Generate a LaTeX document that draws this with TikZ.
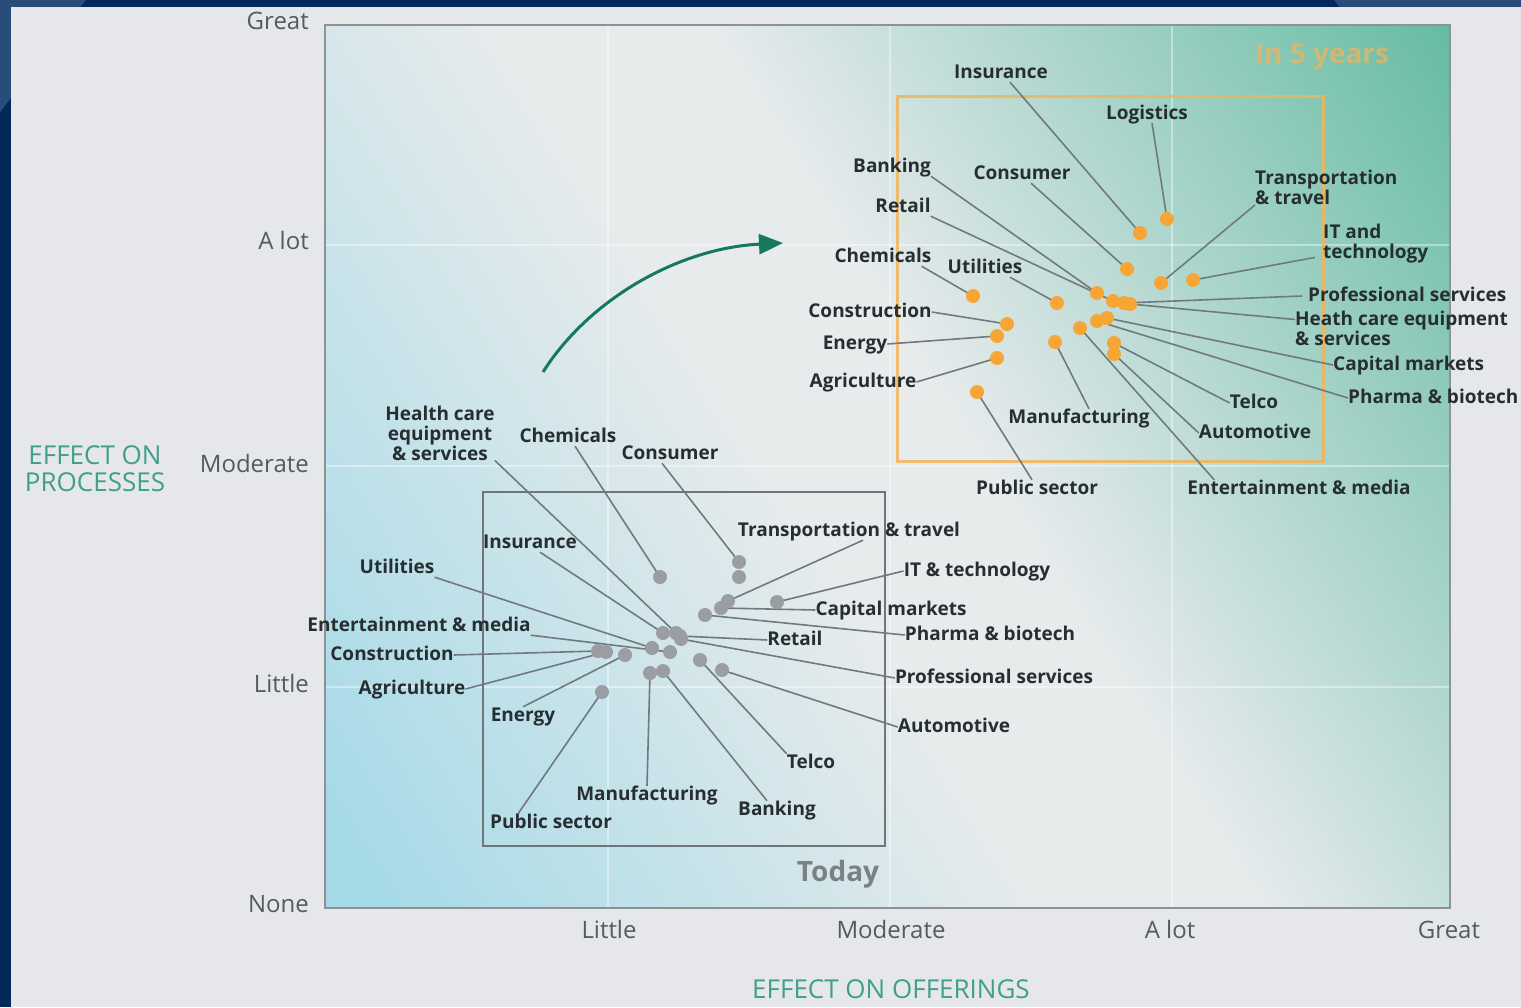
\documentclass[tikz,border=0pt]{standalone}
\usepackage{fontspec}
\setmainfont{Open Sans}
\usetikzlibrary{arrows.meta}
\definecolor{navy}{RGB}{3,40,90}
\definecolor{navylt}{RGB}{42,76,122}
\definecolor{slide}{RGB}{230,231,235}
\definecolor{axgrey}{RGB}{140,146,150}
\definecolor{ticktxt}{RGB}{85,90,94}
\definecolor{tealtxt}{RGB}{63,159,138}
\definecolor{arrowgreen}{RGB}{22,120,95}
\definecolor{orangebox}{RGB}{242,180,90}
\definecolor{orangedot}{RGB}{247,165,53}
\definecolor{greydot}{RGB}{154,157,161}
\definecolor{labtxt}{RGB}{38,46,50}
\definecolor{connc}{RGB}{112,122,126}
\definecolor{todaybox}{RGB}{110,118,122}
\definecolor{todaytxt}{RGB}{122,128,132}
\definecolor{gradA}{RGB}{166,218,231}
\definecolor{gradB}{RGB}{231,235,236}
\definecolor{gradC}{RGB}{104,188,165}
\pgfdeclareverticalshading{plotgrad}{100bp}{color(0bp)=(gradA); color(18bp)=(gradA); color(45bp)=(gradB); color(54bp)=(gradB); color(84bp)=(gradC); color(100bp)=(gradC)}
\pgfdeclarelayer{bgl}
\pgfdeclarelayer{connl}
\pgfsetlayers{bgl,connl,main}
\tikzset{
  lab/.style={font=\fontsize{19}{20}\selectfont\bfseries, text=labtxt, inner sep=0pt},
  labs/.style={lab, text height=14pt, text depth=4pt},
  tick/.style={font=\fontsize{24}{26}\selectfont, text=ticktxt, inner sep=0pt, text height=18pt, text depth=5pt},
  axtitle/.style={font=\fontsize{26}{27}\selectfont, text=tealtxt, inner sep=0pt},
  odot/.style={circle, fill=orangedot, minimum size=14pt, inner sep=0pt},
  gdot/.style={circle, fill=greydot, minimum size=14pt, inner sep=0pt},
  connline/.style={draw=connc, line width=1.6pt},
  gridline/.style={draw=white, opacity=0.4, line width=2pt}
}
\begin{document}
\begin{tikzpicture}[x=1pt,y=-1pt]
\useasboundingbox (0,0) rectangle (1521,1007);
\begin{pgfonlayer}{bgl}
  \fill[navy] (0,0) rectangle (1521,1007);
  \fill[navylt] (0,0) -- (86,0) -- (0,112) -- cycle;
  \fill[navylt] (1334,0) -- (1521,0) -- (1521,20) -- (1350,20) -- cycle;
  \fill[slide] (11,7) rectangle (1521,1007);
  \shade[shading=plotgrad, shading angle=-58] (325,25) rectangle (1450,908);
  \draw[gridline] (608,25) -- (608,908);
  \draw[gridline] (890,25) -- (890,908);
  \draw[gridline] (1172,25) -- (1172,908);
  \draw[gridline] (325,245) -- (1450,245);
  \draw[gridline] (325,466) -- (1450,466);
  \draw[gridline] (325,687) -- (1450,687);
  \draw[axgrey, line width=2pt] (325,25) rectangle (1450,908);
  \draw[orangebox, opacity=0.85, line width=3pt] (897,96) rectangle (1323,461);
  \draw[todaybox, line width=2pt] (483,492) rectangle (885,846);
\end{pgfonlayer}

% axis tick labels
\node[tick, anchor=east] (yGreat) at (309,23) {Great};
\node[tick, anchor=east] (yAlot) at (309,243) {A lot};
\node[tick, anchor=east] (yMod) at (309,466) {Moderate};
\node[tick, anchor=east] (yLittle) at (309,686) {Little};
\node[tick, anchor=east] (yNone) at (309,906) {None};
\node[tick] (xLittle) at (609,932) {Little};
\node[tick] (xMod) at (891,932) {Moderate};
\node[tick] (xAlot) at (1170,932) {A lot};
\node[tick] (xGreat) at (1449,932) {Great};
\node[axtitle, align=center] (ytitle) at (95,469) {EFFECT ON\\PROCESSES};
\node[axtitle] (xtitle) at (891,989) {EFFECT ON OFFERINGS};

\node[font=\fontsize{28}{30}\selectfont\bfseries, text=orangebox, opacity=0.7, inner sep=0pt] (in5) at (1322,57) {In 5 years};
\node[font=\fontsize{28}{30}\selectfont\bfseries, text=todaytxt, inner sep=0pt] (today) at (838,874) {Today};

% arrow
\coordinate (arrS) at (543,372);
\coordinate (arrE) at (783,243);
\draw[arrowgreen, line width=3pt, -{Triangle[length=24pt,width=20pt]}] (arrS) .. controls (590,298) and (680,248) .. (arrE);

% upper (in 5 years) dots
\node[odot] (uIns) at (1140,233) {};
\node[odot] (uLog) at (1167,219) {};
\node[odot] (uCons) at (1127,269) {};
\node[odot] (uTrans) at (1161,283) {};
\node[odot] (uIT) at (1193,280) {};
\node[odot] (uBank) at (1097,293) {};
\node[odot] (uRet) at (1113,301) {};
\node[odot] (uProf) at (1124,303) {};
\node[odot] (uHeal) at (1130,304) {};
\node[odot] (uUtil) at (1057,303) {};
\node[odot] (uChem) at (973,296) {};
\node[odot] (uConstr) at (1007,324) {};
\node[odot] (uEner) at (997,336) {};
\node[odot] (uAgri) at (997,358) {};
\node[odot] (uPub) at (977,392) {};
\node[odot] (uManu) at (1055,342) {};
\node[odot] (uEnt) at (1080,328) {};
\node[odot] (uCap) at (1107,318) {};
\node[odot] (uPharma) at (1097,321) {};
\node[odot] (uTelco) at (1114,343) {};
\node[odot] (uAuto) at (1114,354) {};

% upper labels
\node[labs] (luIns) at (1001,73) {Insurance};
\node[labs] (luLog) at (1147,114) {Logistics};
\node[labs] (luBank) at (892,167) {Banking};
\node[labs] (luCons) at (1022,174) {Consumer};
\node[labs] (luRet) at (903,207) {Retail};
\node[labs] (luChem) at (883,257) {Chemicals};
\node[labs] (luUtil) at (985,268) {Utilities};
\node[labs] (luConstr) at (870,312) {Construction};
\node[labs] (luEner) at (855,344) {Energy};
\node[labs] (luAgri) at (863,382) {Agriculture};
\node[labs] (luPub) at (1037,489) {Public sector};
\node[labs] (luManu) at (1079,418) {Manufacturing};
\node[lab, align=left, anchor=north west] (luTrans) at (1255,170) {Transportation\\\& travel};
\node[lab, align=left, anchor=north west] (luIT) at (1323,224) {IT and\\technology};
\node[labs, anchor=west] (luProf) at (1308,296) {Professional services};
\node[lab, align=left, anchor=north west] (luHeal) at (1295,311) {Heath care equipment\\\& services};
\node[labs, anchor=west] (luCap) at (1333,365) {Capital markets};
\node[labs, anchor=west] (luPharma) at (1348,398) {Pharma \& biotech};
\node[labs] (luTelco) at (1254,403) {Telco};
\node[labs] (luAuto) at (1255,433) {Automotive};
\node[labs] (luEnt) at (1299,489) {Entertainment \& media};

% lower (today) dots
\node[gdot] (dChem) at (660,577) {};
\node[gdot] (dCons) at (739,562) {};
\node[gdot] (dX) at (739,577) {};
\node[gdot] (dTrans) at (728,601) {};
\node[gdot] (dCap) at (721,608) {};
\node[gdot] (dPharma) at (705,615) {};
\node[gdot] (dIT) at (777,602) {};
\node[gdot] (dIns) at (663,633) {};
\node[gdot] (dHeal) at (676,633) {};
\node[gdot] (dRet) at (680,636) {};
\node[gdot] (dProf) at (681,639) {};
\node[gdot] (dUtil) at (652,648) {};
\node[gdot] (dEnt) at (670,652) {};
\node[gdot] (dEner) at (625,655) {};
\node[gdot] (dConstr) at (598,651) {};
\node[gdot] (dAgri) at (606,652) {};
\node[gdot] (dTelco) at (700,660) {};
\node[gdot] (dAuto) at (722,670) {};
\node[gdot] (dManu) at (650,673) {};
\node[gdot] (dBank) at (663,671) {};
\node[gdot] (dPub) at (602,692) {};

% lower labels
\node[lab, align=center] (ldHeal) at (440,433) {Health care\\equipment\\\& services};
\node[labs] (ldChem) at (568,437) {Chemicals};
\node[labs] (ldCons) at (670,454) {Consumer};
\node[labs] (ldIns) at (530,543) {Insurance};
\node[labs] (ldUtil) at (397,568) {Utilities};
\node[labs] (ldEnt) at (419,626) {Entertainment \& media};
\node[labs] (ldConstr) at (392,655) {Construction};
\node[labs] (ldAgri) at (412,689) {Agriculture};
\node[labs] (ldEner) at (523,716) {Energy};
\node[labs] (ldPub) at (551,823) {Public sector};
\node[labs] (ldManu) at (647,795) {Manufacturing};
\node[labs] (ldBank) at (777,810) {Banking};
\node[labs] (ldTelco) at (811,763) {Telco};
\node[labs] (ldAuto) at (954,727) {Automotive};
\node[labs] (ldProf) at (994,678) {Professional services};
\node[labs] (ldRet) at (795,640) {Retail};
\node[labs] (ldPharma) at (990,635) {Pharma \& biotech};
\node[labs] (ldCap) at (891,610) {Capital markets};
\node[labs] (ldIT) at (977,571) {IT \& technology};
\node[labs] (ldTrans) at (849,531) {Transportation \& travel};

\begin{pgfonlayer}{connl}
  % upper connectors
  \draw[connline] ([xshift=9pt]luIns.south) -- (uIns.center);
  \draw[connline] ([xshift=5pt]luLog.south) -- (uLog.center);
  \draw[connline] (luBank.south east) -- (uBank.center);
  \draw[connline] ([xshift=9pt]luCons.south) -- (uCons.center);
  \draw[connline] (luRet.south east) -- (uRet.center);
  \draw[connline] ([xshift=-10pt]luChem.south east) -- (uChem.center);
  \draw[connline] ([xshift=25pt]luUtil.south) -- (uUtil.center);
  \draw[connline] (luConstr.east) -- (uConstr.center);
  \draw[connline] (luEner.east) -- (uEner.center);
  \draw[connline] (luAgri.east) -- (uAgri.center);
  \draw[connline] ([xshift=-5pt]luPub.north) -- (uPub.center);
  \draw[connline] ([xshift=10pt]luManu.north) -- (uManu.center);
  \draw[connline] (luTrans.south west) -- (uTrans.center);
  \draw[connline] ([xshift=-8pt,yshift=6pt]luIT.south west) -- (uIT.center);
  \draw[connline] ([xshift=-6pt]luProf.west) -- (uProf.center);
  \draw[connline] ([yshift=9pt]luHeal.west) -- (uHeal.center);
  \draw[connline] (luCap.west) -- (uCap.center);
  \draw[connline] (luPharma.west) -- (uPharma.center);
  \draw[connline] (luTelco.west) -- (uTelco.center);
  \draw[connline] (luAuto.west) -- (uAuto.center);
  \draw[connline] ([xshift=27pt]luEnt.north west) -- (uEnt.center);
  % lower connectors
  \draw[connline] (ldHeal.south east) -- (dHeal.center);
  \draw[connline] ([xshift=7pt]ldChem.south) -- (dChem.center);
  \draw[connline] ([xshift=-8pt]ldCons.south) -- (dCons.center);
  \draw[connline] ([xshift=10pt]ldIns.south) -- (dIns.center);
  \draw[connline] (ldUtil.south east) -- (dUtil.center);
  \draw[connline] (ldEnt.south east) -- (dEnt.center);
  \draw[connline] (ldConstr.east) -- (dConstr.center);
  \draw[connline] (ldAgri.east) -- (dAgri.center);
  \draw[connline] (ldEner.north) -- (dEner.center);
  \draw[connline] ([xshift=-33pt]ldPub.north) -- (dPub.center);
  \draw[connline] (ldManu.north) -- (dManu.center);
  \draw[connline] ([xshift=-10pt]ldBank.north) -- (dBank.center);
  \draw[connline] (ldTelco.north west) -- (dTelco.center);
  \draw[connline] (ldAuto.west) -- (dAuto.center);
  \draw[connline] (ldProf.west) -- (dProf.center);
  \draw[connline] (ldRet.west) -- (dRet.center);
  \draw[connline] (ldPharma.west) -- (dPharma.center);
  \draw[connline] (ldCap.west) -- (dCap.center);
  \draw[connline] (ldIT.west) -- (dIT.center);
  \draw[connline] ([xshift=14pt]ldTrans.south) -- (dTrans.center);
\end{pgfonlayer}
\end{tikzpicture}
\end{document}
